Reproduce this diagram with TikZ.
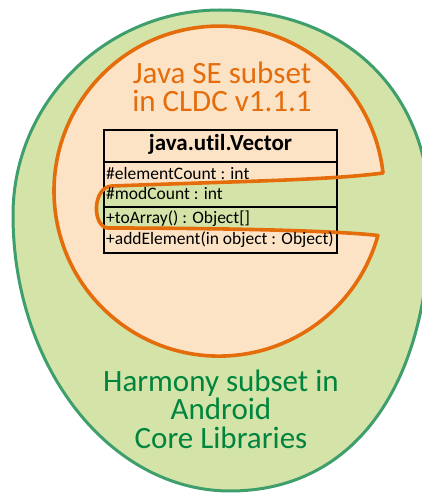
\documentclass[tikz,border=0pt]{standalone}
\usepackage{fontspec}
\setmainfont{Carlito}[Ligatures={NoCommon}]
\definecolor{eggfill}{RGB}{212,227,168}
\definecolor{eggline}{RGB}{62,158,108}
\definecolor{peach}{RGB}{253,227,198}
\definecolor{orangeline}{RGB}{228,108,10}
\definecolor{greentext}{RGB}{0,132,62}
\tikzset{
  bigorange/.style={inner sep=0pt, anchor=base, text=orangeline, font=\fontsize{31}{31}\selectfont},
  biggreen/.style={inner sep=0pt, anchor=base, text=greentext, font=\fontsize{31}{31}\selectfont},
  umlrow/.style={inner sep=0pt, anchor=base west, font=\fontsize{17.5}{17.5}\selectfont},
  umltitle/.style={inner sep=0pt, anchor=base, font=\fontsize{23}{23}\selectfont\bfseries},
  umlline/.style={draw=black, line width=1.3pt}
}
\begin{document}
\begin{tikzpicture}[x=1pt,y=1pt]
\useasboundingbox (0,0) rectangle (422,493);
\clip (0,0) rectangle (422,493);
% outer egg (Harmony subset)
\path[fill=eggfill, draw=eggline, line width=3pt]
  (13,278) .. controls (13,391) and (106,483) .. (220,483)
  .. controls (346,483) and (430,401) .. (430,278)
  .. controls (430,107) and (354,2) .. (230,2)
  .. controls (110,2) and (13,126) .. cycle;
% inner pac-man (CLDC subset)
\path[fill=peach]
  (383,320) arc[start angle=6.3, end angle=344.4, radius=165]
  .. controls (330,263) and (200,265) .. (108,265)
  .. controls (92,266) and (92,306) .. (112,307)
  .. controls (250,312) and (330,313) .. cycle;
% UML class box
\coordinate (bnw) at (104,363);
\coordinate (bse) at (337,240);
\draw[umlline] (bnw) rectangle (bse);
\coordinate (s1w) at (104,331);
\coordinate (s1e) at (337,331);
\coordinate (s2w) at (104,286);
\coordinate (s2e) at (337,286);
\draw[umlline] (s1w) -- (s1e);
\draw[umlline] (s2w) -- (s2e);
% orange outline on top
\path[draw=orangeline, line width=3.6pt, line join=round]
  (383,320) arc[start angle=6.3, end angle=344.4, radius=165]
  .. controls (330,263) and (200,265) .. (108,265)
  .. controls (92,266) and (92,306) .. (112,307)
  .. controls (250,312) and (330,313) .. cycle;
% texts
\node[bigorange] (t1) at (222,409) {Java SE subset};
\node[bigorange] (t2) at (222,381) {in CLDC v1.1.1};
\node[umltitle] (title) at (220.5,342.5) {java.util.Vector};
\node[umlrow] (a1) at (106,313) {\#elementCount : int};
\node[umlrow] (a2) at (106,293) {\#modCount : int};
\node[umlrow] (m1) at (106,269) {+toArray() : Object[]};
\node[umlrow] (m2) at (106,248) {+addElement(in object : Object)};
\node[biggreen] (h1) at (221,101) {Harmony subset in};
\node[biggreen] (h2) at (221,73) {Android};
\node[biggreen] (h3) at (221,45) {Core Libraries};
\end{tikzpicture}
\end{document}
